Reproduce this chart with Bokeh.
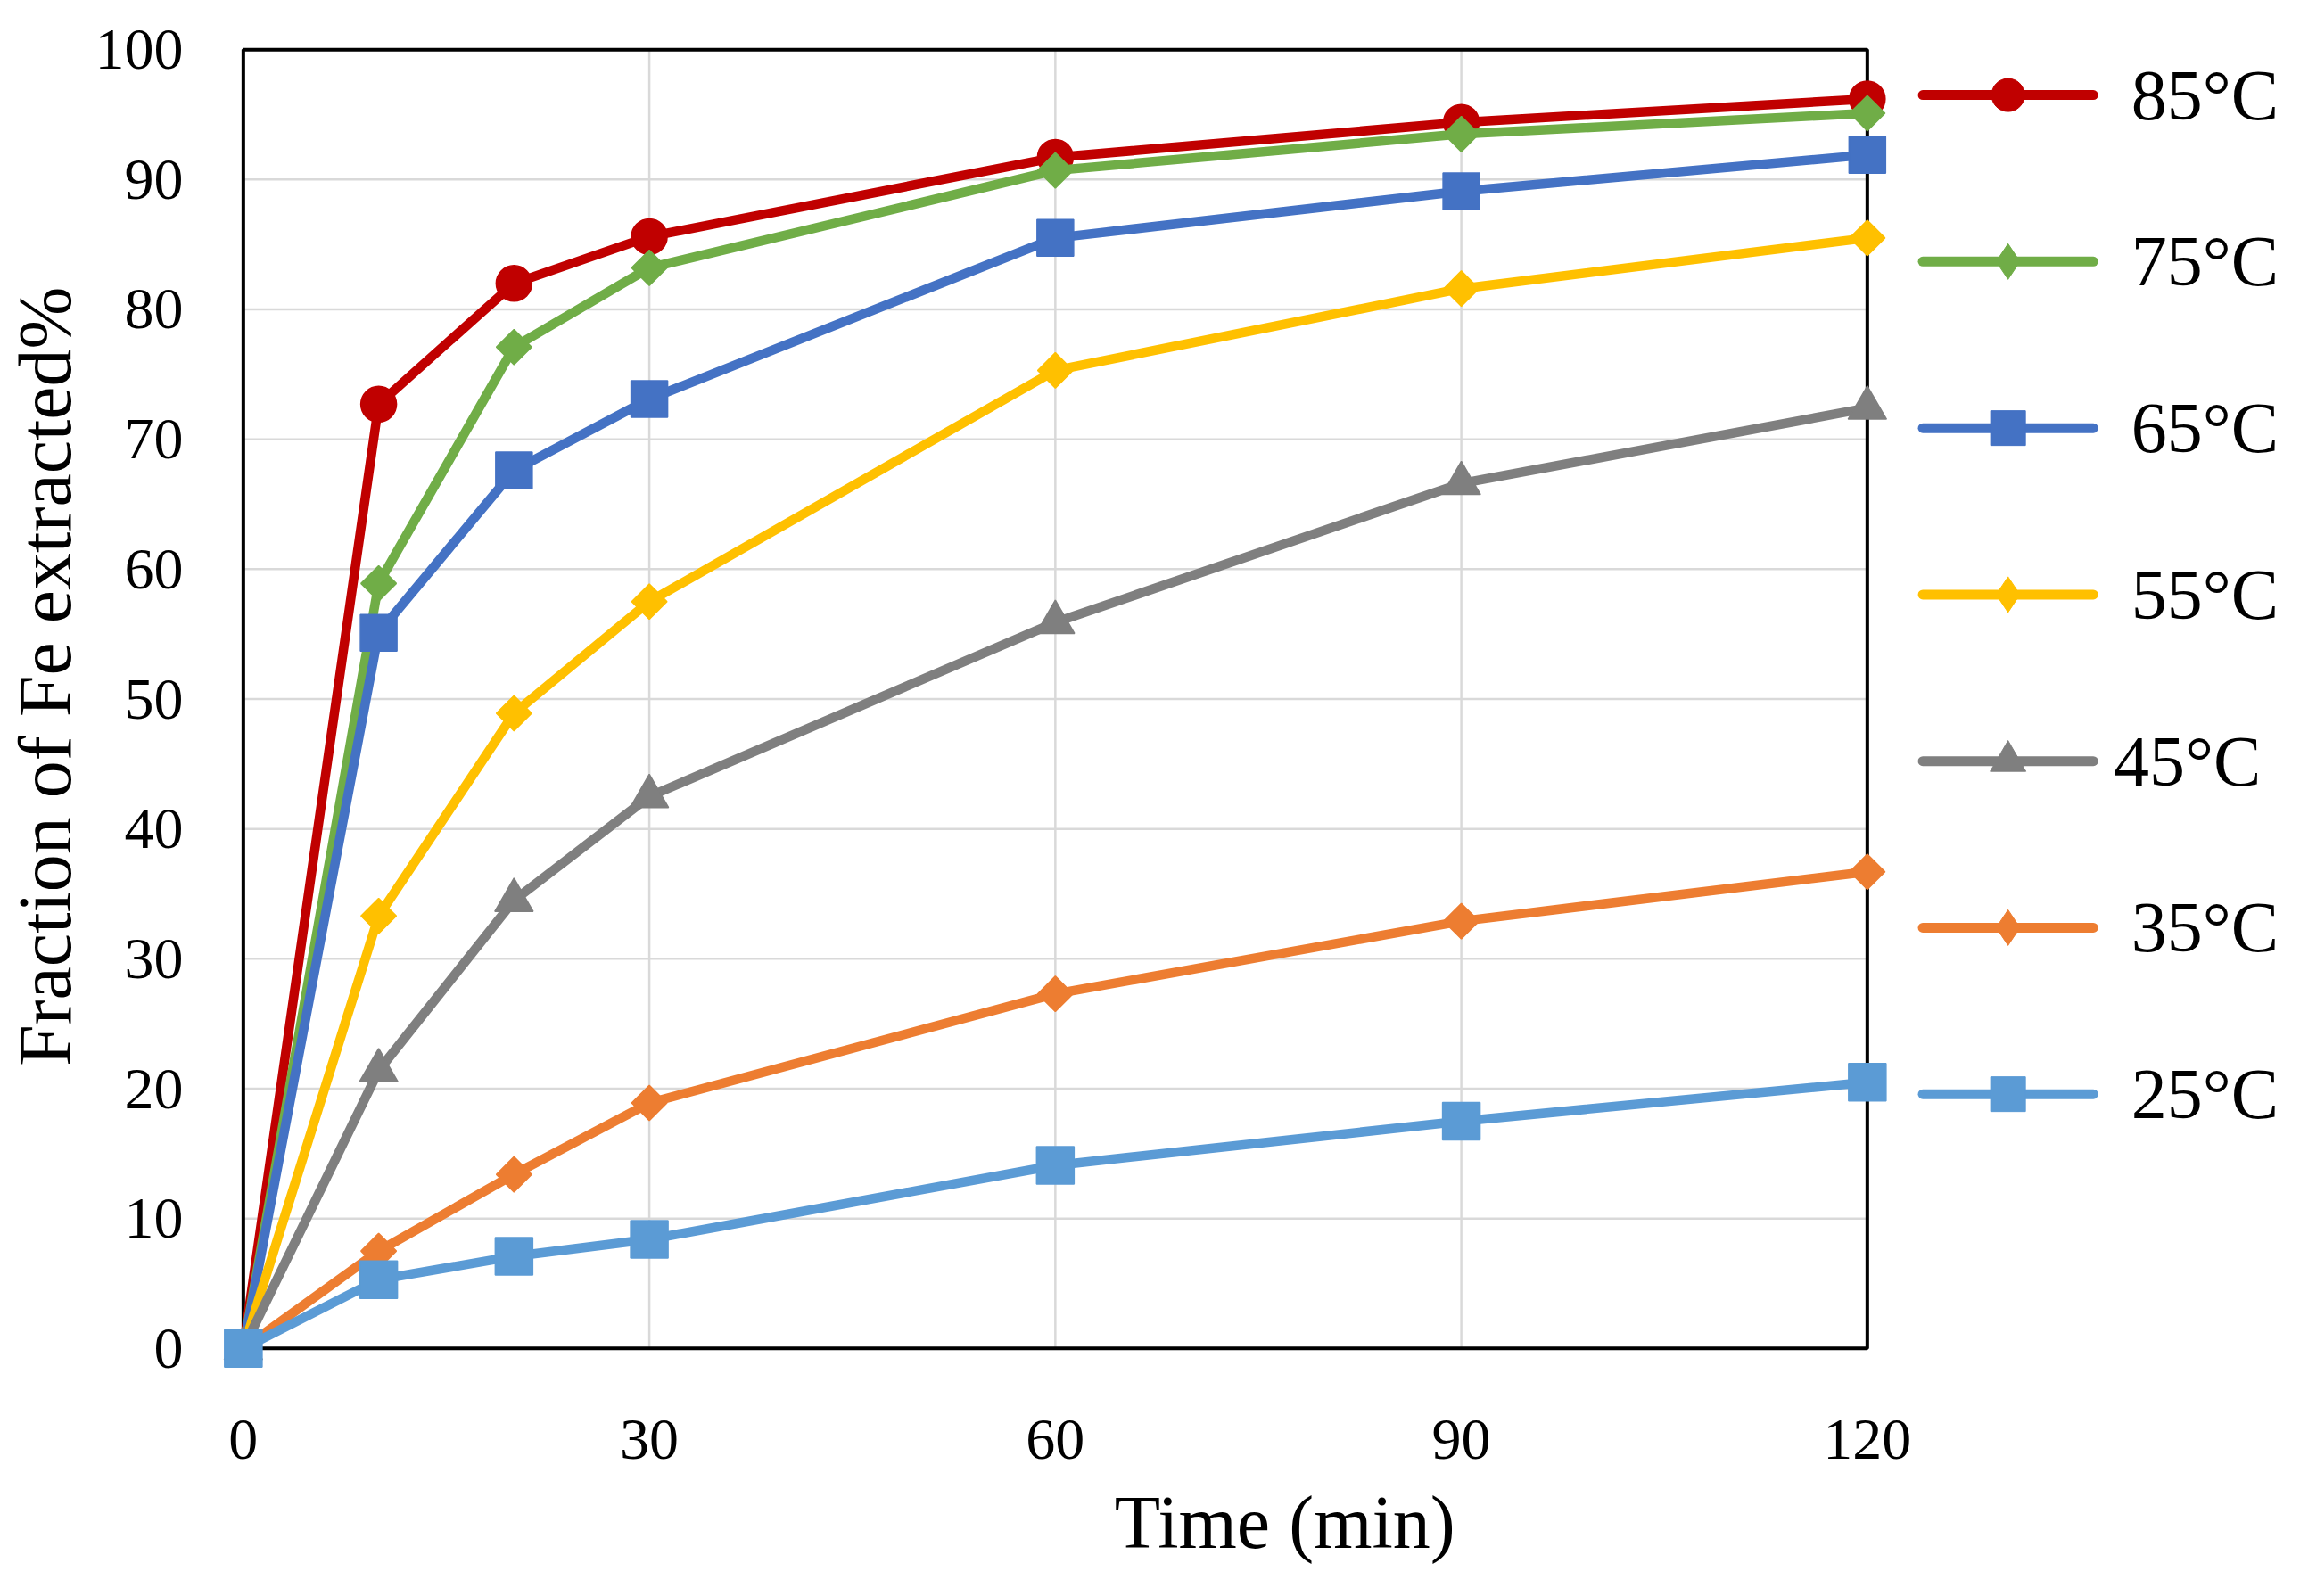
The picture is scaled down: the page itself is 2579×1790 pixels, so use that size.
import math
from bokeh.plotting import figure
from bokeh.models import Range1d, FixedTicker
from bokeh.core.properties import value
from bokeh.embed import file_html
from bokeh.resources import INLINE

# ---------------- data ----------------
time_min = [0, 10, 20, 30, 60, 90, 120]
fe_85 = [0, 72.7, 82.0, 85.6, 91.7, 94.4, 96.2]
fe_75 = [0, 58.9, 77.1, 83.2, 90.7, 93.5, 95.1]
fe_65 = [0, 55.1, 67.6, 73.1, 85.5, 89.1, 91.9]
fe_55 = [0, 33.3, 48.9, 57.5, 75.3, 81.6, 85.5]
fe_45 = [0, 21.4, 34.5, 42.5, 55.9, 66.6, 72.4]
fe_35 = [0, 7.5, 13.4, 18.9, 27.3, 32.9, 36.7]
fe_25 = [0, 5.3, 7.1, 8.4, 14.1, 17.5, 20.5]

series_labels = ["85°C", "75°C", "65°C", "55°C", "45°C", "35°C", "25°C"]
series_values = [fe_85, fe_75, fe_65, fe_55, fe_45, fe_35, fe_25]

x_ticks = [0, 30, 60, 90, 120]
y_ticks = [0, 10, 20, 30, 40, 50, 60, 70, 80, 90, 100]

x_label = "Time (min)"
y_label = "Fraction of Fe extracted%"

# ---------------- styles ----------------
colors = ["#C00000", "#70AD47", "#4472C4", "#FFC000", "#7F7F7F", "#ED7D31", "#5B9BD5"]
markers = ["circle", "square", "square", "square", "triangle", "square", "square"]
marker_sizes = [40, 28, 41, 28, 43, 28, 42]
marker_angles = [0, math.pi / 4, 0, math.pi / 4, 0, math.pi / 4, 0]
legend_markers = ["circle", "diamond", "square", "diamond", "triangle", "diamond", "square"]
legend_marker_sizes = [37, 40, 39, 40, 40, 40, 39]
legend_text_dx = [0, 0, 0, 0, -1.3, 0, 0]

FONT = "Liberation Serif"
X_MIN, X_MAX = 0, 120
Y_MIN, Y_MAX = 0, 100
PAD_X, PAD_Y = 2, 2
X_VIEW_END = 150.95       # room right of the data box for the legend

# legend layout (in the plot's x/y units, outside the data box)
LEG_LINE_X0, LEG_LINE_X1 = 124.1, 136.7
LEG_TEXT_X = 139.5
LEG_Y_TOP, LEG_Y_STEP = 96.5, 12.82

# small leading spaces shift the centred axis titles like in the original
X_LABEL_SHIFT = "\u2002\u2009\u2009"
Y_LABEL_SHIFT = "\u2009\u2009\u2009"

W, H = 2563, 1770

p = figure(
    width=W, height=H,
    output_backend="svg", toolbar_location=None,
    x_range=Range1d(X_MIN - PAD_X, X_VIEW_END),
    y_range=Range1d(Y_MIN - PAD_Y, Y_MAX + PAD_Y),
    min_border_left=238, min_border_right=0,
    min_border_top=26, min_border_bottom=229,
)
p.outline_line_color = None
p.background_fill_color = "white"
p.border_fill_color = "white"
p.xgrid.visible = False
p.ygrid.visible = False

# grid lines limited to the data box
gx = x_ticks[1:-1]
p.segment(x0=gx, x1=gx, y0=[Y_MIN] * len(gx), y1=[Y_MAX] * len(gx),
          line_color="#D9D9D9", line_width=2.5)
gy = y_ticks[1:-1]
p.segment(x0=[X_MIN] * len(gy), x1=[X_MAX] * len(gy), y0=gy, y1=gy,
          line_color="#D9D9D9", line_width=2.5)

# plot-area frame
p.quad(left=[X_MIN], right=[X_MAX], bottom=[Y_MIN], top=[Y_MAX],
       fill_alpha=0, line_color="black", line_width=4)

# series (85 first, 25 last on top)
for vals, col, mk, ms, ang in zip(series_values, colors, markers,
                                  marker_sizes, marker_angles):
    p.line(time_min, vals, line_color=col, line_width=10.5, line_join="round")
    p.scatter(time_min, vals, marker=mk, size=ms, angle=ang,
              fill_color=col, line_color=col, line_width=1.5)

# legend, drawn to the right of the data box
n = len(series_labels)
leg_y = [LEG_Y_TOP - i * LEG_Y_STEP for i in range(n)]
leg_xm = (LEG_LINE_X0 + LEG_LINE_X1) / 2
for i in range(n):
    p.segment(x0=[LEG_LINE_X0], x1=[LEG_LINE_X1], y0=[leg_y[i]], y1=[leg_y[i]],
              line_color=colors[i], line_width=11, line_cap="round")
    p.scatter([leg_xm], [leg_y[i]], marker=legend_markers[i],
              size=legend_marker_sizes[i], fill_color=colors[i],
              line_color=colors[i], line_width=1)
p.text(x=[LEG_TEXT_X + d for d in legend_text_dx], y=leg_y, text=series_labels,
       text_font=value(FONT), text_font_size="80px",
       text_baseline="middle", text_align="left", text_color="black")

for ax in (p.xaxis, p.yaxis):
    ax.axis_line_color = None
    ax.major_tick_line_color = None
    ax.minor_tick_line_color = None
    ax.major_label_text_font = FONT
    ax.major_label_text_font_size = "66px"
    ax.major_label_text_color = "black"
    ax.axis_label_text_font = FONT
    ax.axis_label_text_font_size = "84px"
    ax.axis_label_text_font_style = "normal"
    ax.axis_label_text_color = "black"

p.xaxis.ticker = FixedTicker(ticks=x_ticks)
p.yaxis.ticker = FixedTicker(ticks=y_ticks)
p.xaxis.axis_label = X_LABEL_SHIFT + x_label
p.yaxis.axis_label = Y_LABEL_SHIFT + y_label
p.xaxis.major_label_standoff = 45
p.xaxis.axis_label_standoff = 22
p.yaxis.major_label_standoff = 31
p.yaxis.axis_label_standoff = 7

open("out.html", "w").write(file_html(p, INLINE))
